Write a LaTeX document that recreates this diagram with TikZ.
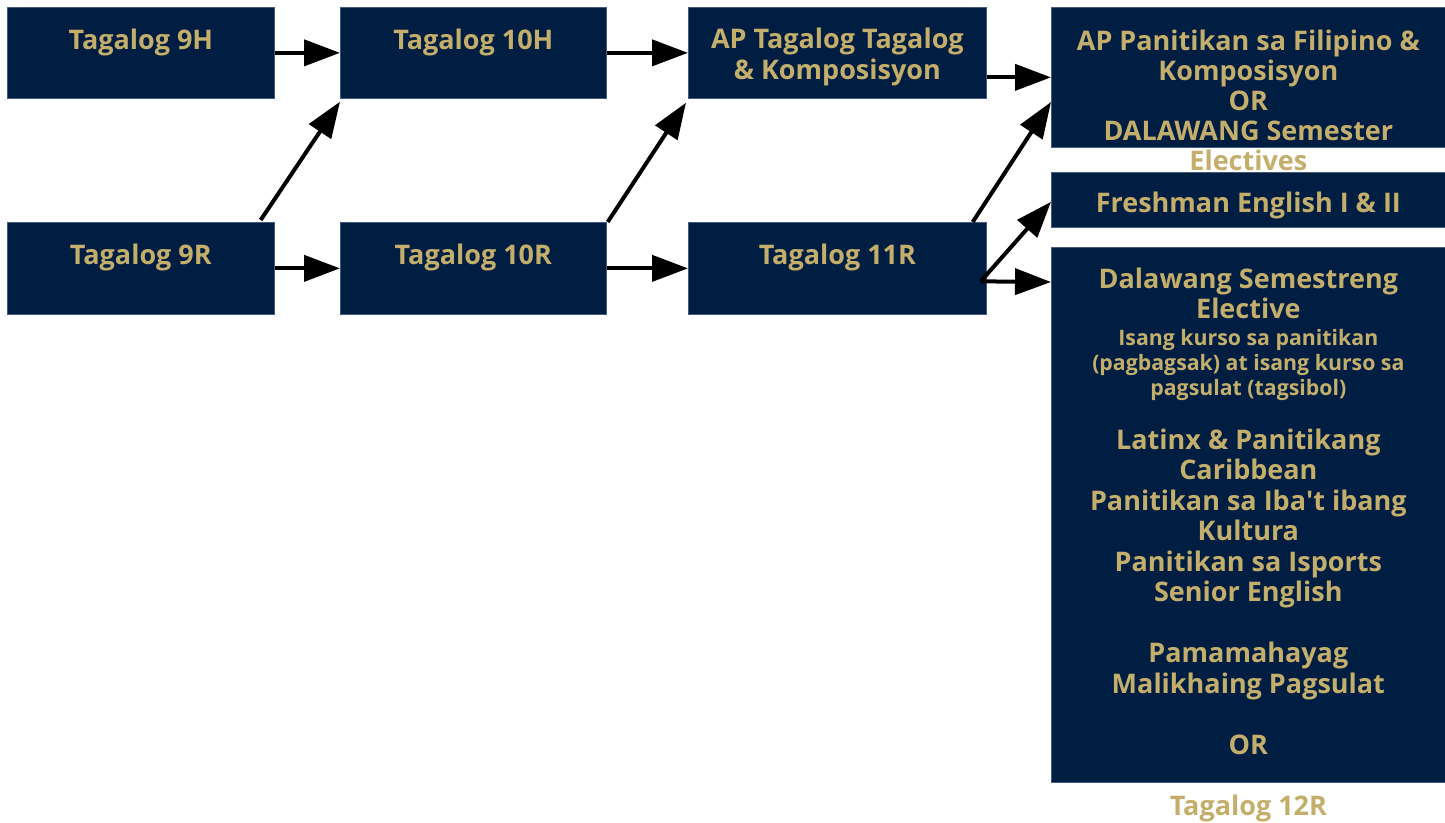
\documentclass[tikz,border=0pt]{standalone}
\usepackage{fontspec}
\setmainfont{Open Sans}
\newfontfamily\aposfont{Open Sans}[Ligatures=TeXOff]
\usetikzlibrary{arrows.meta,calc}
\definecolor{navy}{RGB}{0,30,66}
\definecolor{edge}{RGB}{70,90,125}
\definecolor{gold}{RGB}{196,174,107}
\begin{document}
\begin{tikzpicture}[x=1pt,y=-1pt,
  box/.style={fill=navy, draw=edge, line width=0.7pt, inner sep=0pt, anchor=north west},
  big/.style={text=gold, font=\bfseries\fontsize{27}{30.5}\selectfont, align=center, anchor=base, inner sep=0pt},
  small/.style={text=gold, font=\bfseries\fontsize{21.3}{25}\selectfont, align=center, anchor=base, inner sep=0pt},
  arr/.style={line width=4pt, -{Triangle[length=36pt,width=26pt]}, black}]
\useasboundingbox[fill=white] (0,0) rectangle (1445,822);
% boxes
\node[box, minimum width=267pt, minimum height=91pt] (h9) at (7,7) {};
\node[box, minimum width=266pt, minimum height=91pt] (h10) at (340,7) {};
\node[box, minimum width=298pt, minimum height=91pt] (ap) at (688,7) {};
\node[box, minimum width=396pt, minimum height=140pt] (apPan) at (1051,7) {};
\node[box, minimum width=267pt, minimum height=92pt] (r9) at (7,222) {};
\node[box, minimum width=266pt, minimum height=92pt] (r10) at (340,222) {};
\node[box, minimum width=298pt, minimum height=92pt] (r11) at (688,222) {};
\node[box, minimum width=396pt, minimum height=55pt] (fresh) at (1051,172) {};
\node[box, minimum width=396pt, minimum height=535pt] (dal) at (1051,247) {};
% texts (anchor base = baseline of the last line)
\node[big] (h9t) at ($(h9.north)+(0,42)$) {Tagalog 9H};
\node[big] (h10t) at ($(h10.north)+(0,42)$) {Tagalog 10H};
\node[big] (apt) at ($(ap.north)+(0,72)$) {AP Tagalog Tagalog\\\& Komposisyon};
\node[big, font=\bfseries\fontsize{27}{30}\selectfont] (apPant) at ($(apPan.north)+(-1,163)$) {AP Panitikan sa Filipino \&\\Komposisyon\\OR\\DALAWANG Semester\\Electives};
\node[big] (r9t) at ($(r9.north)+(0,42)$) {Tagalog 9R};
\node[big] (r10t) at ($(r10.north)+(0,42)$) {Tagalog 10R};
\node[big] (r11t) at ($(r11.north)+(0,42)$) {Tagalog 11R};
\node[big] (frt) at ($(fresh.north)+(-1,40)$) {Freshman English I \& II};
\node[big] (dal1) at ($(dal.north)+(-1,71.5)$) {Dalawang Semestreng\\Elective};
\node[small] (dal2) at ($(dal.north)+(-1,148)$) {Isang kurso sa panitikan\\(pagbagsak) at isang kurso sa\\pagsulat (tagsibol)};
\node[big] (dal3) at ($(dal.north)+(-1,568)$) {Latinx \& Panitikang\\Caribbean\\Panitikan sa Iba{\aposfont'}t ibang\\Kultura\\Panitikan sa Isports\\Senior English\\[30.5pt]Pamamahayag\\Malikhaing Pagsulat\\[30.5pt]OR\\[30.5pt]Tagalog 12R};
% connectors
\coordinate (r11o) at ($(r11.east)+(-6,13)$);
\draw[arr] (h9.east) -- (h10.west);
\draw[arr] ($(r9.north east)+(-14,-2)$) -- ($(h10.south west)+(0,3)$);
\draw[arr] (r9.east) -- (r10.west);
\draw[arr] (h10.east) -- (ap.west);
\draw[arr] ($(r10.north east)+(1,0)$) -- ($(ap.south west)+(-2,4)$);
\draw[arr] (r10.east) -- (r11.west);
\draw[arr] (ap.east |- apPan.west) -- (apPan.west);
\draw[arr] ($(r11.north east)+(-14,0)$) -- ($(apPan.north west)+(0,95)$);
\draw[arr] (r11o) -- ($(fresh.west)+(0,2)$);
\draw[arr] (r11o) -- ($(dal.north west)+(0,35)$);
\end{tikzpicture}
\end{document}
